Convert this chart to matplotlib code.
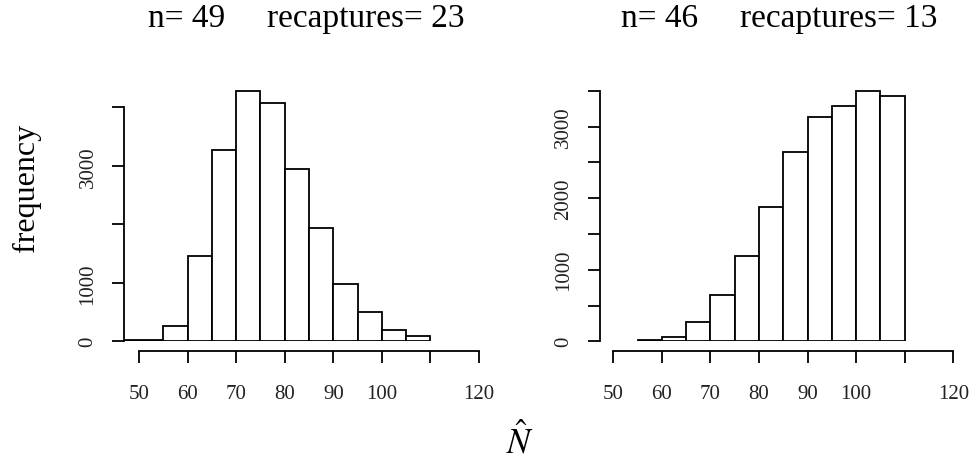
import numpy as np
import matplotlib.pyplot as plt

plt.rcParams['font.family'] = 'Liberation Serif'
plt.rcParams['mathtext.fontset'] = 'stix'

# simulated N-hat histograms (bin edges and counts)
left_edges = [47, 55, 60, 65, 70, 75, 80, 85, 90, 95, 100, 105, 110]
left_counts = [20, 255, 1460, 3270, 4280, 4070, 2940, 1930, 975, 495, 190, 90]
left_title = "n= 49     recaptures= 23"
left_yticks = [0, 1000, 2000, 3000, 4000]
left_ylabels = ["0", "1000", "", "3000", ""]

right_edges = [55, 60, 65, 70, 75, 80, 85, 90, 95, 100, 105, 110]
right_counts = [20, 65, 275, 645, 1195, 1880, 2645, 3130, 3285, 3500, 3425]
right_title = "n= 46     recaptures= 13"
right_yticks = [0, 500, 1000, 1500, 2000, 2500, 3000, 3500]
right_ylabels = ["0", "", "1000", "", "2000", "", "3000", ""]

xticks = [50, 60, 70, 80, 90, 100, 110, 120]
xlabels = ["50", "60", "70", "80", "90", "100", "", "120"]

W, H = 973, 464
fig = plt.figure(figsize=(W / 100, H / 100), dpi=100)


def panel(x0, y0, xlim, ylim, xpx, ypx, edges, counts, yticks, ylabels):
    # x0, y0: pixel position of (xlim[0], 0); xpx, ypx: pixels per data unit
    w = (xlim[1] - xlim[0]) * xpx
    h = (ylim[1] - ylim[0]) * ypx
    ax = fig.add_axes([x0 / W, (H - y0) / H, w / W, h / H])
    ax.bar(edges[:-1], counts, width=np.diff(edges), align='edge',
           facecolor='white', edgecolor='black', linewidth=1.3)
    ax.set_xlim(xlim)
    ax.set_ylim(ylim)
    for s in ['top', 'right']:
        ax.spines[s].set_visible(False)
    ax.spines['left'].set_bounds(yticks[0], yticks[-1])
    ax.spines['bottom'].set_bounds(xticks[0], xticks[-1])
    ax.spines['bottom'].set_position(('outward', 7.2))
    for s in ['left', 'bottom']:
        ax.spines[s].set_linewidth(1.3)
    ax.set_xticks(xticks)
    ax.set_xticklabels(xlabels)
    ax.set_yticks(yticks)
    ax.set_yticklabels(ylabels, rotation=90, va='center')
    ax.tick_params(length=8.8, width=1.3, labelsize=15, colors='black',
                   labelcolor='#222222')
    ax.tick_params(axis='x', pad=15)
    ax.tick_params(axis='y', pad=10.5)
    ax.patch.set_visible(False)
    return ax


panel(124.4, 342.3, (47, 122), (0, 4400), 4.857, 0.0585,
      left_edges, left_counts, left_yticks, left_ylabels)
panel(600.2, 342.3, (47.3, 122), (0, 3550), 4.857, 0.0716,
      right_edges, right_counts, right_yticks, right_ylabels)

fig.text(306 / W, 1 - 27 / H, left_title, ha='center', va='baseline', fontsize=24)
fig.text(779 / W, 1 - 27 / H, right_title, ha='center', va='baseline', fontsize=24)
fig.text(26 / W, 1 - 188 / H, "frequency", rotation=90, ha='center',
         va='center', fontsize=23)
fig.text(519.5 / W, 1 - 442.5 / H, r'$\hat{N}$', ha='center', va='center', fontsize=25)

fig.savefig('out.png', dpi=100)
